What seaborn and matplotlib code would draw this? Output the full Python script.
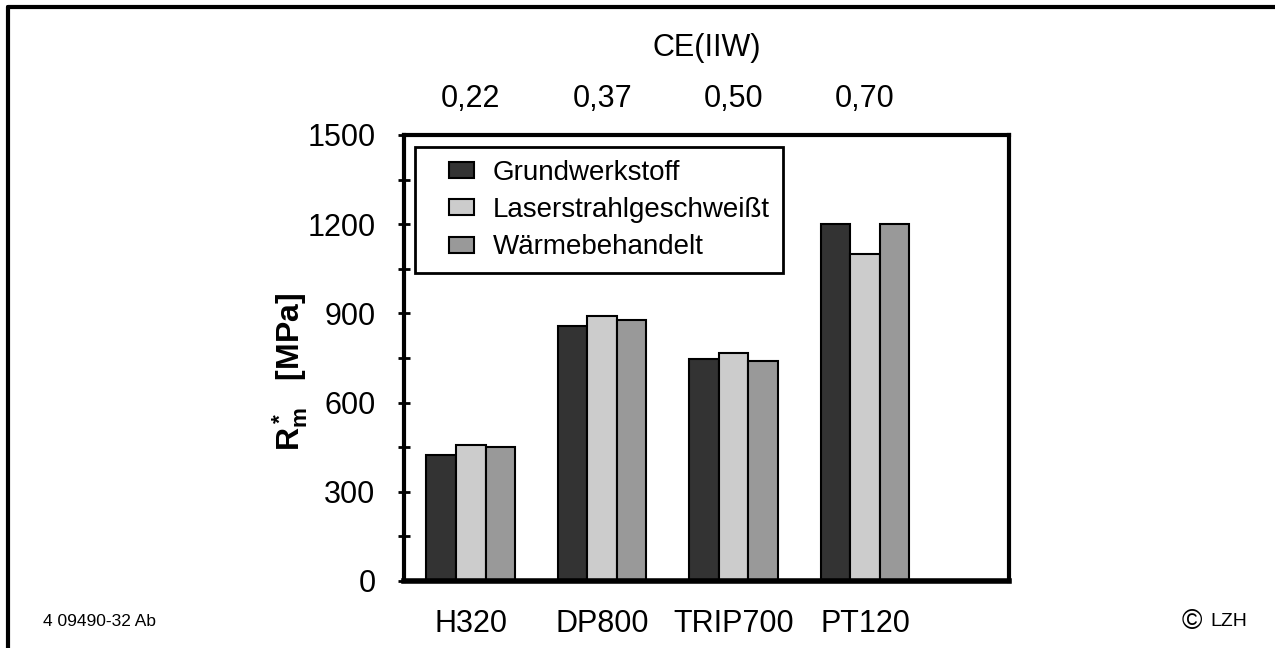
import matplotlib
matplotlib.use("Agg")
import matplotlib.pyplot as plt
from matplotlib.lines import Line2D
from matplotlib.patches import Rectangle
from matplotlib.legend_handler import HandlerPatch
from matplotlib.ticker import MultipleLocator
import seaborn as sns
import pandas as pd

# ---- data ----
materials = ["H320", "DP800", "TRIP700", "PT120"]
ce_values = ["0,22", "0,37", "0,50", "0,70"]
series_names = ["Grundwerkstoff", "Laserstrahlgeschweißt", "Wärmebehandelt"]
grundwerkstoff = [424, 858, 748, 1200]
laser = [457, 891, 766, 1100]
waerme = [451, 878, 740, 1200]
colors = ["#333333", "#cccccc", "#999999"]

rows = []
for name, vals in zip(series_names, [grundwerkstoff, laser, waerme]):
    for m, v in zip(materials, vals):
        rows.append({"Werkstoff": m, "Zustand": name, "Rm": v})
df = pd.DataFrame(rows)

sns.set_theme(style="white")
plt.rcParams["font.family"] = ["Liberation Sans", "DejaVu Sans"]
plt.rcParams["mathtext.fontset"] = "custom"
plt.rcParams["mathtext.rm"] = "Liberation Sans"
plt.rcParams["mathtext.bf"] = "Liberation Sans:bold"
plt.rcParams["mathtext.it"] = "Liberation Sans:italic"
for k in ["text.color", "axes.labelcolor", "xtick.color", "ytick.color"]:
    plt.rcParams[k] = "black"

fig = plt.figure(figsize=(12.75, 6.48), dpi=100)
W, H = 1275, 648
ax = fig.add_axes([404 / W, 1 - 581 / H, (1009 - 404) / W, (581 - 135) / H])

sns.barplot(data=df, x="Werkstoff", y="Rm", hue="Zustand", order=materials,
            hue_order=series_names, palette=colors, width=0.674,
            edgecolor="black", linewidth=1.5, saturation=1, ax=ax)

ax.set_xlim(-0.508, 4.096)
ax.set_ylim(0, 1500)
ax.yaxis.set_major_locator(MultipleLocator(300))
ax.yaxis.set_minor_locator(MultipleLocator(150))
ax.tick_params(axis="y", which="both", direction="inout", length=9, width=2,
               labelsize=22, pad=16, left=True, color="black", labelcolor="black")
ax.tick_params(axis="x", length=0, labelsize=22, pad=20, labelcolor="black")
for side, lw in [("left", 3), ("bottom", 4), ("top", 3), ("right", 3)]:
    ax.spines[side].set_visible(True)
    ax.spines[side].set_color("black")
    ax.spines[side].set_linewidth(lw)
ax.set_xlabel("")
ax.set_ylabel(r"$\mathbf{R^*_m}$   [MPa]", fontsize=23, fontweight="bold", color="black")
ax.yaxis.set_label_coords(-0.156, 0.469)


def right_rect(legend, orig_handle, xdescent, ydescent, width, height, fontsize):
    rw = width * 0.53
    rh = 11.5
    return Rectangle((-xdescent + width - rw, -ydescent + (height - rh) / 2), rw, rh)


handles, labels = ax.get_legend_handles_labels()
leg = ax.legend(handles, labels, loc="upper left", bbox_to_anchor=(0.018, 0.973),
                fontsize=20, frameon=True, fancybox=False, edgecolor="black",
                framealpha=1, handlelength=1.64, handleheight=0.6,
                handletextpad=0.7, borderpad=0.47, borderaxespad=0,
                labelspacing=0.4, labelcolor="black",
                handler_map={h: HandlerPatch(patch_func=right_rect) for h in handles})
leg.get_frame().set_linewidth(2)

sec = ax.secondary_xaxis("top")
sec.set_xticks(range(len(materials)))
sec.set_xticklabels(ce_values)
sec.tick_params(length=0, labelsize=22, pad=15, labelcolor="black")
sec.set_xlabel("CE(IIW)", fontsize=22, labelpad=20, color="black")
sec.spines["top"].set_visible(False)

fig.text(43 / W, 1 - 622 / H, "4 09490-32 Ab", fontsize=12.5, va="center", ha="left", color="black")
fig.text(1202 / W, 1 - 622 / H, "©", fontsize=20, va="center", ha="right", color="black")
fig.text(1210 / W, 1 - 622 / H, "LZH", fontsize=14, va="center", ha="left", color="black")

fig.add_artist(Line2D([8 / W, 8 / W], [0, 1 - 7 / H], transform=fig.transFigure, color="black", lw=3))
fig.add_artist(Line2D([8 / W, 1], [1 - 7 / H, 1 - 7 / H], transform=fig.transFigure, color="black", lw=3))

fig.savefig("out.png", dpi=100, facecolor="white")
